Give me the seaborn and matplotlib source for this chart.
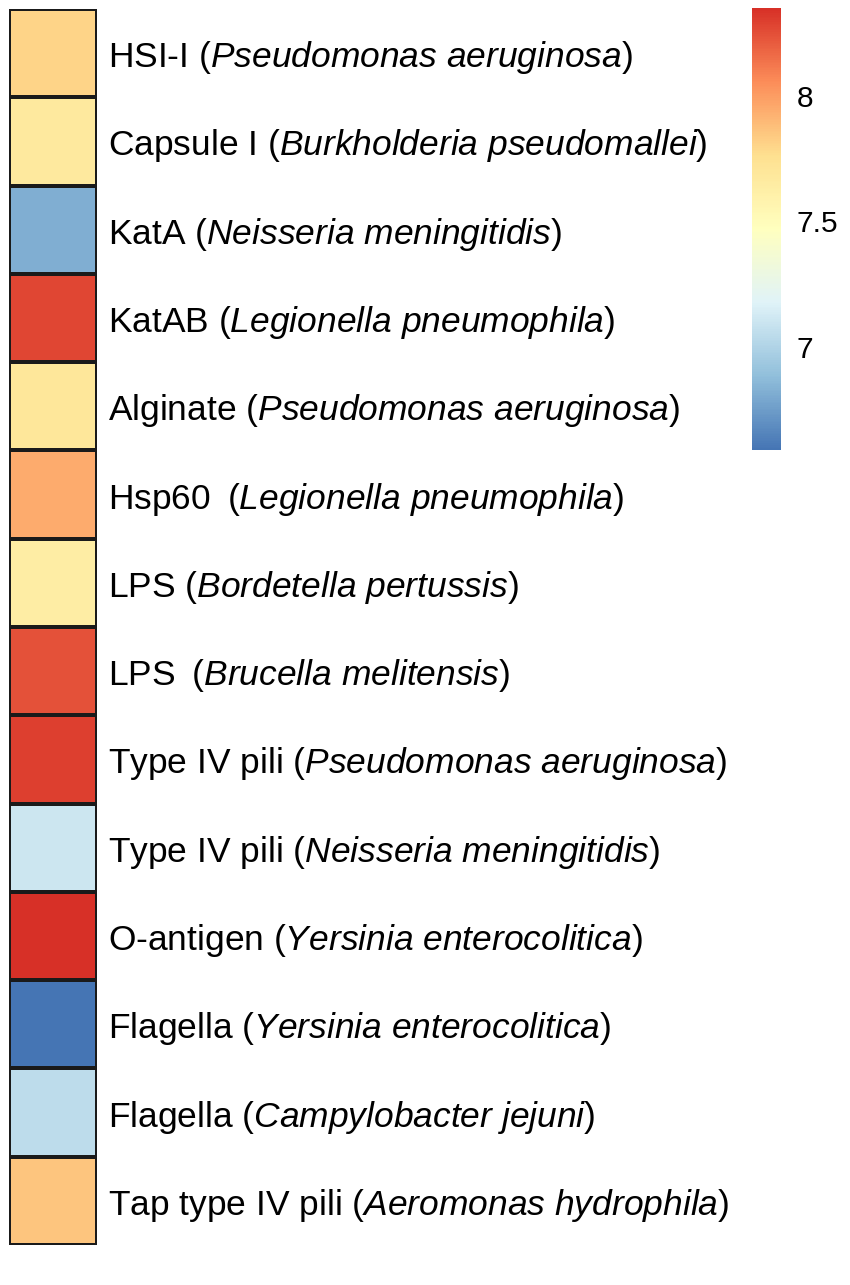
import numpy as np
import pandas as pd
import seaborn as sns
import matplotlib
matplotlib.use("Agg")
from matplotlib import pyplot as plt
from matplotlib.colors import LinearSegmentedColormap

# factor names and organism (organism shown in italics)
factors = ["HSI-I", "Capsule I", "KatA", "KatAB", "Alginate", "Hsp60\u2009", "LPS", "LPS\u2009",
           "Type IV pili", "Type IV pili", "O-antigen", "Flagella", "Flagella",
           "Tap type IV pili"]
organisms = ["Pseudomonas aeruginosa", "Burkholderia pseudomallei", "Neisseria meningitidis",
             "Legionella pneumophila", "Pseudomonas aeruginosa", "Legionella pneumophila",
             "Bordetella pertussis", "Brucella melitensis", "Pseudomonas aeruginosa",
             "Neisseria meningitidis", "Yersinia enterocolitica", "Yersinia enterocolitica",
             "Campylobacter jejuni", "Aeromonas hydrophila"]
values = [7.80, 7.67, 6.82, 8.28, 7.70, 7.95, 7.64, 8.24, 8.30, 7.10, 8.35, 6.59, 7.05, 7.86]
cbar_ticks = [7, 7.5, 8]
cbar_ticklabels = ["7", "7.5", "8"]

sns.set_style("white")
plt.rcParams["font.family"] = ["Liberation Sans", "DejaVu Sans"]
plt.rcParams["mathtext.fontset"] = "custom"
plt.rcParams["mathtext.rm"] = "Liberation Sans"
plt.rcParams["mathtext.it"] = "Liberation Sans:italic"

labels = []
for f, o in zip(factors, organisms):
    labels.append(f + " ($\\mathit{" + o.replace(" ", "\\ ") + "}$)")

df = pd.DataFrame({"score": values}, index=labels)

# pheatmap default palette
cmap = LinearSegmentedColormap.from_list(
    "ph", ["#4575B4", "#91BFDB", "#E0F3F8", "#FFFFBF", "#FEE090", "#FC8D59", "#D73027"])

W, H = 850, 1285
fig = plt.figure(figsize=(W / 100, H / 100), dpi=100)
ax = fig.add_axes([9 / W, 1 - 1245 / H, 88 / W, 1236 / H])
cax = fig.add_axes([752 / W, 1 - 450 / H, 29 / W, 442 / H])

sns.heatmap(df, ax=ax, cmap=cmap, vmin=min(values), vmax=max(values),
            linewidths=1.6, linecolor="#1a1a1a", cbar_ax=cax,
            xticklabels=False, yticklabels=True)

ax.yaxis.tick_right()
ax.tick_params(axis="y", length=0, pad=8, labelsize=25.5, labelrotation=0)
for t in ax.get_yticklabels():
    t.set_horizontalalignment("left")
    t.set_color("black")
ax.set_ylabel("")

cb = ax.collections[0].colorbar
cb.set_ticks(cbar_ticks)
cb.set_ticklabels(cbar_ticklabels)
cb.outline.set_visible(False)
cax.tick_params(length=0, pad=11, labelsize=21.5, labelcolor="black")

fig.savefig("out.png", dpi=100, facecolor="white")
